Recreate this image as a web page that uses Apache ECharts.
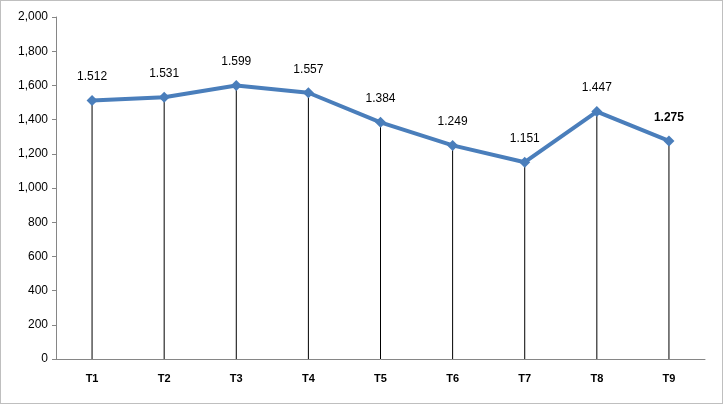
<!DOCTYPE html>
<html>
<head>
<meta charset="utf-8">
<script src="https://cdn.jsdelivr.net/npm/echarts@6/dist/echarts.min.js"></script>
<style>
html,body{margin:0;padding:0;background:#fff;}
#main{width:721px;height:402px;border:1px solid #bfbfbf;}
</style>
</head>
<body>
<div id="main"></div>
<script>
var categories = ['T1', 'T2', 'T3', 'T4', 'T5', 'T6', 'T7', 'T8', 'T9'];
var values = [1512, 1531, 1599, 1557, 1384, 1249, 1151, 1447, 1275];

var myChart = echarts.init(document.getElementById('main'));

function fmt(v) {
    return String(v).replace(/(\d)(\d{3})$/, '$1.$2');
}

myChart.setOption({
    animation: false,
    grid: { left: 55, right: 17, top: 16, bottom: 44 },
    xAxis: {
        type: 'category',
        data: categories,
        boundaryGap: true,
        axisLine: { lineStyle: { color: '#868686' } },
        axisTick: { show: false },
        axisLabel: { color: '#000', fontWeight: 'bold', fontSize: 11, fontFamily: 'Liberation Sans', margin: 14 }
    },
    yAxis: {
        type: 'value',
        min: 0,
        max: 2000,
        interval: 200,
        axisLine: { show: true, lineStyle: { color: '#868686' } },
        axisTick: { show: true, length: 4, lineStyle: { color: '#868686' } },
        splitLine: { show: false },
        axisLabel: { color: '#000', fontSize: 12, fontFamily: 'Liberation Sans', margin: 8 }
    },
    series: [{
        type: 'bar',
        data: values,
        barWidth: 1,
        itemStyle: { color: '#000' },
        silent: true
    }, {
        type: 'line',
        data: values,
        symbol: 'diamond',
        symbolSize: 11,
        lineStyle: { color: '#4a7ebb', width: 4 },
        itemStyle: { color: '#4a7ebb' },
        label: {
            show: true,
            position: 'top',
            distance: 12,
            color: '#000',
            fontSize: 12,
            fontFamily: 'Liberation Sans',
            formatter: function (p) { return fmt(p.value); }
        },
        labelLayout: function (p) {
            return {};
        },
        z: 3
    }]
});
myChart.setOption({
    series: [{}, {
        data: values.map(function (v, i) {
            return i === values.length - 1 ? { value: v, label: { fontWeight: 'bold' } } : v;
        })
    }]
});
</script>
</body>
</html>
